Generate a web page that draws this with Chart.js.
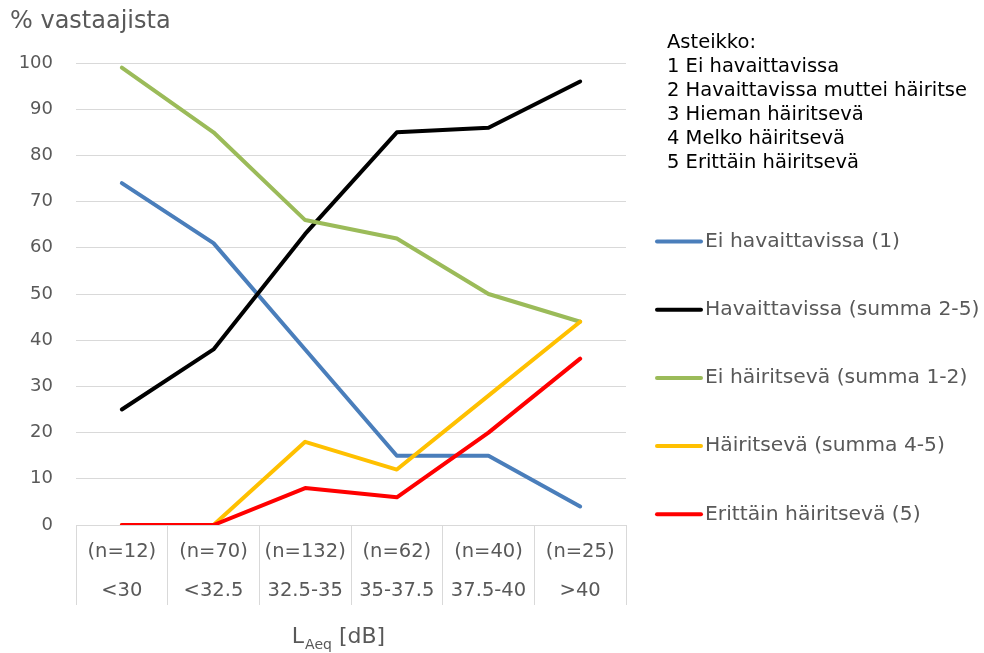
<!DOCTYPE html>
<html>
<head>
<meta charset="utf-8">
<script src="https://cdn.jsdelivr.net/npm/chart.js@4"></script>
<style>
  body { margin: 0; background: #fff; }
</style>
</head>
<body>
<canvas id="myChart" width="984" height="653"></canvas>
<script>
// data
var nLabels = ["(n=12)", "(n=70)", "(n=132)", "(n=62)", "(n=40)", "(n=25)"];
var levels = ["<30", "<32.5", "32.5-35", "35-37.5", "37.5-40", ">40"];

var eiHavaittavissa = [74, 61, 38, 15, 15, 4];
var havaittavissa = [25, 38, 63, 85, 86, 96];
var eiHairitseva = [99, 85, 66, 62, 50, 44];
var hairitseva = [0, 0, 18, 12, 28, 44];
var erittainHairitseva = [0, 0, 8, 6, 20, 36];

var scaleText = [
  "Asteikko:",
  "1 Ei havaittavissa",
  "2 Havaittavissa muttei häiritse",
  "3 Hieman häiritsevä",
  "4 Melko häiritsevä",
  "5 Erittäin häiritsevä"
];

var FONT = "'DejaVu Sans', Verdana, sans-serif";
var GREY = "#595959";
var GRID = "#d9d9d9";

var labels = nLabels.map(function (n, i) { return [n, levels[i]]; });

function line(label, data, color, order) {
  return {
    label: label,
    data: data,
    borderColor: color,
    backgroundColor: color,
    borderWidth: 4,
    pointRadius: 0,
    tension: 0,
    borderCapStyle: "round",
    borderJoinStyle: "round",
    fill: false,
    order: order // later series on top, like Excel
  };
}

// texts and legend drawn on the canvas
var extras = {
  id: "extras",
  afterDraw: function (chart) {
    var ctx = chart.ctx;
    ctx.save();

    // y title
    ctx.fillStyle = GREY;
    ctx.textBaseline = "middle";
    ctx.textAlign = "left";
    ctx.font = "24px " + FONT;
    ctx.fillText("% vastaajista", 10, 22);

    // x title L_Aeq [dB]
    var big = "22px " + FONT, small = "14px " + FONT;
    ctx.font = big;
    var wL = ctx.measureText("L").width;
    var wB = ctx.measureText(" [dB]").width;
    ctx.font = small;
    var wS = ctx.measureText("Aeq").width;
    var x0 = 338 - (wL + wS + wB) / 2;
    ctx.font = big;
    ctx.fillText("L", x0, 637);
    ctx.font = small;
    ctx.fillText("Aeq", x0 + wL + 1, 645);
    ctx.font = big;
    ctx.fillText(" [dB]", x0 + wL + wS + 1, 637);

    // scale explanation
    ctx.fillStyle = "#000";
    ctx.font = "19.5px " + FONT;
    for (var i = 0; i < scaleText.length; i++) {
      ctx.fillText(scaleText[i], 667, 43 + i * 24);
    }

    // legend
    ctx.font = "20.3px " + FONT;
    chart.data.datasets.forEach(function (ds, k) {
      var y = 241.5 + k * 68.2;
      ctx.strokeStyle = ds.borderColor;
      ctx.lineWidth = 4;
      ctx.lineCap = "round";
      ctx.beginPath();
      ctx.moveTo(657, y);
      ctx.lineTo(701, y);
      ctx.stroke();
      ctx.fillStyle = GREY;
      ctx.fillText(ds.label, 705, y);
    });
    ctx.restore();
  }
};

var ctx = document.getElementById("myChart");
var myChart = new Chart(ctx, {
  type: "line",
  data: {
    labels: labels,
    datasets: [
      line("Ei havaittavissa (1)", eiHavaittavissa, "#4a7ebb", 4),
      line("Havaittavissa (summa 2-5)", havaittavissa, "#000000", 3),
      line("Ei häiritsevä (summa 1-2)", eiHairitseva, "#9bbb59", 2),
      line("Häiritsevä (summa 4-5)", hairitseva, "#ffc000", 1),
      line("Erittäin häiritsevä (5)", erittainHairitseva, "#ff0000", 0)
    ]
  },
  plugins: [extras],
  options: {
    responsive: false,
    animation: false,
    devicePixelRatio: 1,
    layout: { padding: { top: 63, right: 358, left: 0, bottom: 0 } },
    plugins: {
      legend: { display: false },
      tooltip: { enabled: false }
    },
    scales: {
      x: {
        offset: true,
        afterFit: function (s) { s.height = 128; },
        grid: {
          offset: true,
          drawOnChartArea: false,
          drawTicks: true,
          tickLength: 80,
          color: GRID,
          lineWidth: 1
        },
        border: { display: true, color: GRID },
        ticks: {
          color: GREY,
          font: { family: FONT, size: 19.5, lineHeight: 2 },
          padding: -72.5,
          maxRotation: 0,
          autoSkip: false
        }
      },
      y: {
        min: 0,
        max: 100,
        afterFit: function (s) { s.width = 76; },
        grid: { color: GRID, drawTicks: false, lineWidth: 1 },
        border: { display: false },
        ticks: {
          stepSize: 10,
          color: GREY,
          padding: 23,
          font: { family: FONT, size: 18 }
        }
      }
    }
  }
});
</script>
</body>
</html>
